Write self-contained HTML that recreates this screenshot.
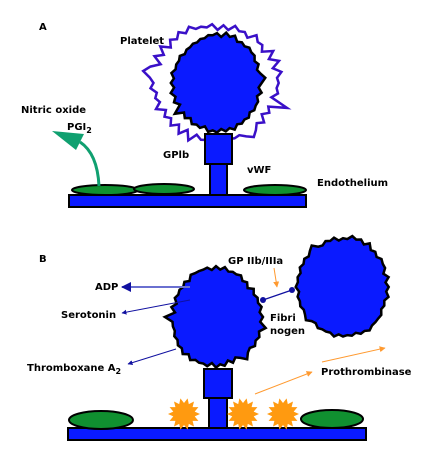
<!DOCTYPE html>
<html><head><meta charset="utf-8">
<style>
html,body{margin:0;padding:0;background:#fff;}
svg{display:block;}
text{font-family:"DejaVu Sans","Liberation Sans",sans-serif;font-weight:bold;font-size:10px;fill:#000;}
</style></head>
<body>
<svg id="fig" width="421" height="461" viewBox="0 0 421 461">
<defs>
<marker id="ab" viewBox="0 0 10 10" refX="9" refY="5" markerWidth="5" markerHeight="5" orient="auto"><path d="M0,0L10,5L0,10z" fill="#1010a0"/></marker>
<marker id="ao" viewBox="0 0 10 10" refX="9" refY="5" markerWidth="6" markerHeight="6" orient="auto"><path d="M0,0L10,5L0,10z" fill="#ff9a30"/></marker>
</defs>
<g id="panelA">
<text x="39" y="30">A</text>
<text x="120" y="44">Platelet</text>
<path id="outerA" fill="none" stroke="#3a10c8" stroke-width="2.5"/>
<path id="blobA" fill="#0a1aff" stroke="#000" stroke-width="2.5"/>
<rect x="205" y="134" width="27" height="30" fill="#0a1aff" stroke="#000" stroke-width="2"/>
<rect x="210" y="164" width="17" height="31" fill="#0a1aff" stroke="#000" stroke-width="2"/>
<rect x="69" y="195" width="237" height="12" fill="#0a1aff" stroke="#000" stroke-width="2"/>
<ellipse cx="105" cy="190" rx="33" ry="5" fill="#109030" stroke="#000" stroke-width="2"/>
<ellipse cx="164" cy="189" rx="30" ry="5" fill="#109030" stroke="#000" stroke-width="2"/>
<ellipse cx="275" cy="190" rx="31" ry="5" fill="#109030" stroke="#000" stroke-width="2"/>
<path d="M99,186 C98,165 92,150 80,142" fill="none" stroke="#10a070" stroke-width="3"/>
<path d="M52,131 L84,134 L76,150 Z" fill="#10a070"/>
<text x="21" y="113">Nitric oxide</text>
<text x="67" y="130">PGI<tspan dy="3" font-size="8">2</tspan></text>
<text x="163" y="158">GPlb</text>
<text x="247" y="173">vWF</text>
<text x="317" y="186">Endothelium</text>
</g>
<g id="panelB">
<text x="39" y="262">B</text>
<path id="blobB1" fill="#0a1aff" stroke="#000" stroke-width="2.5"/>
<path id="blobB2" fill="#0a1aff" stroke="#000" stroke-width="2.5"/>
<rect x="204" y="369" width="28" height="29" fill="#0a1aff" stroke="#000" stroke-width="2"/>
<rect x="209" y="398" width="18" height="30" fill="#0a1aff" stroke="#000" stroke-width="2"/>
<rect x="68" y="428" width="298" height="12" fill="#0a1aff" stroke="#000" stroke-width="2"/>
<ellipse cx="101" cy="420" rx="32" ry="9" fill="#109030" stroke="#000" stroke-width="2"/>
<ellipse cx="332" cy="419" rx="31" ry="9" fill="#109030" stroke="#000" stroke-width="2"/>
<path id="star1" fill="#ff9a10"/>
<path id="star2" fill="#ff9a10"/>
<path id="star3" fill="#ff9a10"/>
<line x1="190" y1="287" x2="122" y2="287" stroke="#6a70d0" stroke-width="2" marker-end="url(#ab)"/>
<line x1="190" y1="300" x2="122" y2="313" stroke="#1010a0" stroke-width="1" marker-end="url(#ab)"/>
<line x1="176" y1="349" x2="128" y2="364" stroke="#1010a0" stroke-width="1" marker-end="url(#ab)"/>
<line x1="263" y1="300" x2="292" y2="290" stroke="#1010a0" stroke-width="1.2"/>
<circle cx="263" cy="300" r="3" fill="#1010a0"/>
<circle cx="292" cy="290" r="3" fill="#1010a0"/>
<line x1="274" y1="268" x2="277" y2="287" stroke="#ff9a30" stroke-width="1" marker-end="url(#ao)"/>
<line x1="255" y1="394" x2="312" y2="372" stroke="#ff9a30" stroke-width="1" marker-end="url(#ao)"/>
<line x1="322" y1="362" x2="385" y2="348" stroke="#ff9a30" stroke-width="1" marker-end="url(#ao)"/>
<text x="95" y="290">ADP</text>
<text x="61" y="318">Serotonin</text>
<text x="27" y="371">Thromboxane A<tspan dy="3" font-size="8">2</tspan></text>
<text x="228" y="264">GP IIb/IIIa</text>
<text x="270" y="321">Fibri</text>
<text x="270" y="334">nogen</text>
<text x="321" y="375">Prothrombinase</text>
</g>
</svg>
<script>
function blob(cx,cy,rx,ry,n,amp,seed){
  var s=seed*9973+12345;
  function rnd(){ s=(s*16807)%2147483647; return s/2147483647; }
  for(var k=0;k<10;k++) rnd();
  var d='';
  for(var i=0;i<n;i++){
    var a=i/n*Math.PI*2;
    var w=1+amp*(i%2?-0.5:0.5)+amp*0.6*(rnd()*2-1)+0.02*Math.sin(a*3+seed);
    if(rnd()<0.05) w+=amp*2.5;
    var x=cx+Math.cos(a)*rx*w, y=cy+Math.sin(a)*ry*w;
    d+=(i?'L':'M')+x.toFixed(1)+','+y.toFixed(1);
  }
  return d+'Z';
}
function star(cx,cy,r1,r2,n){
  var d='';
  for(var i=0;i<n*2;i++){
    var a=i/(n*2)*Math.PI*2, r=i%2?r2:r1;
    d+=(i?'L':'M')+(cx+Math.cos(a)*r).toFixed(1)+','+(cy+Math.sin(a)*r).toFixed(1);
  }
  return d+'Z';
}
document.getElementById('outerA').setAttribute('d',blob(215,83,62,57,70,0.08,3));
document.getElementById('blobA').setAttribute('d',blob(217,83,44,48,64,0.05,5));
document.getElementById('blobB1').setAttribute('d',blob(216,317,44,49,64,0.05,7));
document.getElementById('blobB2').setAttribute('d',blob(343,287,45,49,64,0.05,11));
document.getElementById('star1').setAttribute('d',star(184,414,16,11,14));
document.getElementById('star2').setAttribute('d',star(243,414,16,11,14));
document.getElementById('star3').setAttribute('d',star(283,414,16,11,14));
</script>
</body></html>
